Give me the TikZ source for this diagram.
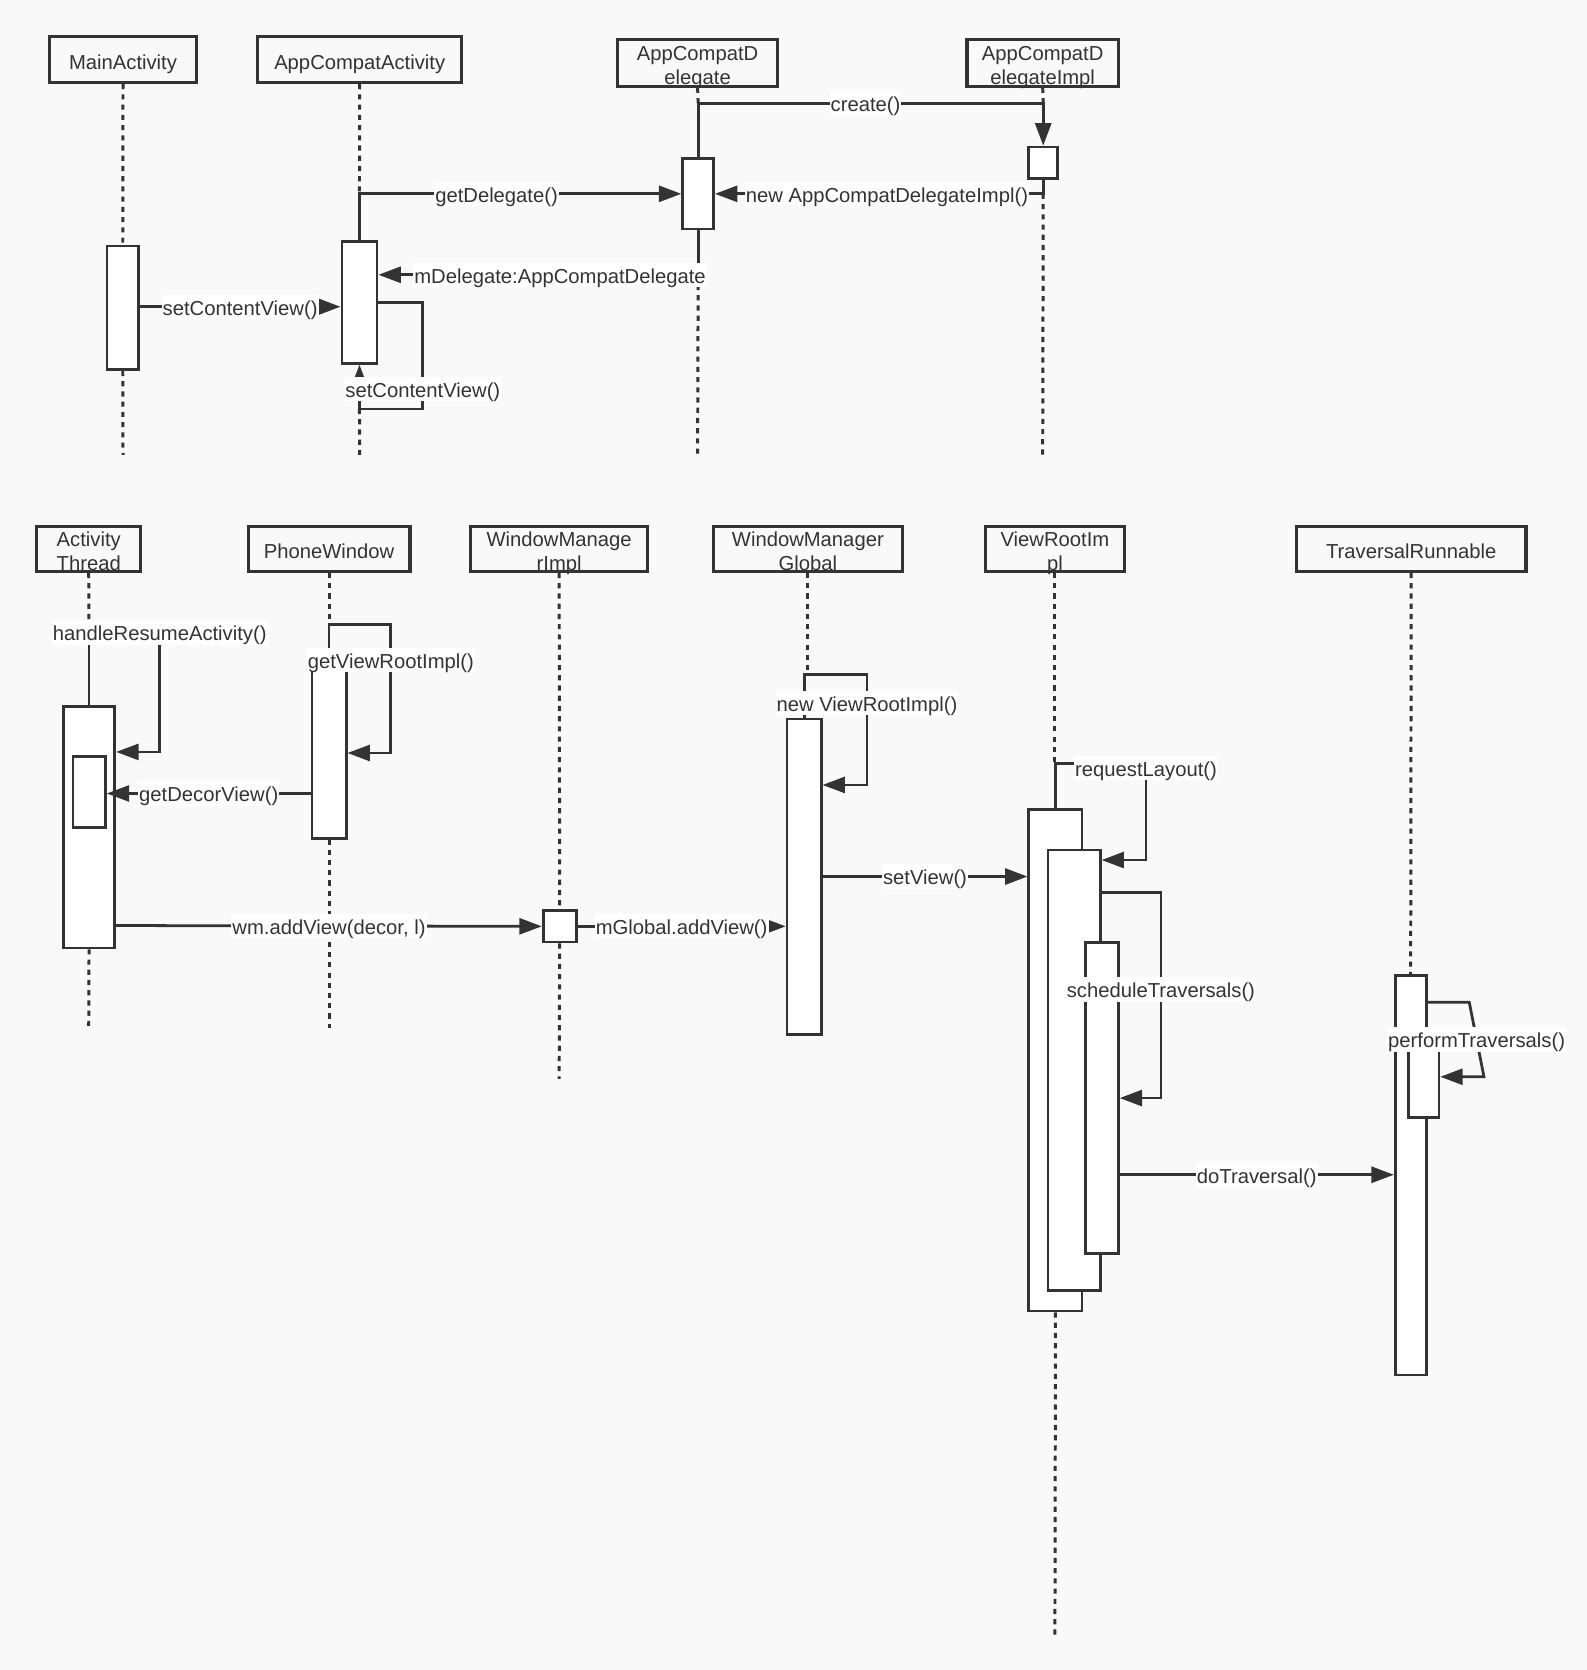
\documentclass[tikz,border=0pt]{standalone}
\usepackage{fontspec}
\setmainfont{Liberation Sans}
\usetikzlibrary{arrows.meta}
\definecolor{linea}{HTML}{333333}
\definecolor{fondo}{HTML}{F9F9F9}
% texto de cabecera en dos lineas
\newcommand{\cabdos}[2]{\raisebox{-0.1pt}[0pt][0pt]{\begin{tabular}{@{}c@{}}#1\\#2\end{tabular}}}

\begin{document}
\begin{tikzpicture}[x=0.5pt,y=-0.5pt,
	font=\fontsize{9.5}{11.4}\selectfont,
	head/.style={draw=linea, line width=1.5pt, inner sep=0pt, text=linea, text height=9.8pt, text depth=1pt},
	act/.style={draw=linea, line width=1.3pt, fill=white, inner sep=0pt},
	life/.style={draw=linea, line width=1.4pt, dash pattern=on 2.4pt off 2.4pt},
	msg/.style={draw=linea, line width=1.3pt, -{Triangle[length=10.5pt,width=7.5pt]}},
	lbl/.style={fill=white, text=linea, inner xsep=0.5pt, inner ysep=0.3pt, text height=9.3pt, text depth=1.5pt}]
	
	% Fondo
	\fill[fondo] (0,0) rectangle (1490,1568);
	\useasboundingbox (0,0) rectangle (1490,1568);
	
	% Cabeceras de arriba
	\node[head, minimum width=69pt, minimum height=21.5pt] (ma) at (115.5,56) {MainActivity};
	\node[head, minimum width=95.75pt, minimum height=21.5pt] (aca) at (337.75,56) {AppCompatActivity};
	\node[head, minimum width=75pt, minimum height=22pt] (acd) at (655,59) {\cabdos{AppCompatD}{elegate}};
	\node[head, minimum width=71pt, minimum height=22pt] (impl) at (979,59) {\cabdos{AppCompatD}{elegateImpl}};
	
	% Cabeceras de abajo
	\node[head, minimum width=48.75pt, minimum height=21.25pt] (at) at (83.3,515.25) {\cabdos{Activity}{Thread}};
	\node[head, minimum width=76pt, minimum height=21.25pt] (pw) at (309,515.25) {PhoneWindow};
	\node[head, minimum width=83pt, minimum height=21.25pt] (wmi) at (525,515.25) {\cabdos{WindowManage}{rImpl}};
	\node[head, minimum width=88.5pt, minimum height=21.25pt] (wmg) at (758.5,515.25) {\cabdos{WindowManager}{Global}};
	\node[head, minimum width=65.5pt, minimum height=21.25pt] (vri) at (990.5,515.25) {\cabdos{ViewRootIm}{pl}};
	\node[head, minimum width=107.8pt, minimum height=21.25pt] (tr) at (1325,515.25) {TraversalRunnable};
	
	% Activaciones
	\node[act, minimum width=14.75pt, minimum height=58pt] (ma1) at (115.25,289) {};
	\node[act, minimum width=16.5pt, minimum height=57pt] (aca1) at (337.5,284) {};
	\node[act, minimum width=14.5pt, minimum height=33pt] (acd1) at (655.5,182) {};
	\node[act, minimum width=13.5pt, minimum height=14.75pt] (impl1) at (979.5,152.75) {};
	\node[act, minimum width=24.2pt, minimum height=113.5pt] (at1) at (83.6,776.5) {};
	\node[act, minimum width=15.25pt, minimum height=33.5pt] (at2) at (83.75,743.5) {};
	\node[act, minimum width=16pt, minimum height=78.65pt] (pw1) at (309,708.35) {};
	\node[act, minimum width=15.5pt, minimum height=14.75pt] (wmi1) at (525.5,869.75) {};
	\node[act, minimum width=16pt, minimum height=148pt] (wmg1) at (755,823) {};
	\node[act, minimum width=25pt, minimum height=235.5pt] (vri1) at (991,995.5) {};
	\node[act, minimum width=24.5pt, minimum height=207pt] (vri2) at (1008.5,1005) {};
	\node[act, minimum width=15.25pt, minimum height=146pt] (vri3) at (1034.75,1031) {};
	\node[act, minimum width=14.5pt, minimum height=187.6pt] (tr1) at (1324.5,1103.4) {};
	\node[act, minimum width=14.25pt, minimum height=38.75pt] (tr2) at (1336.75,1010.75) {};
	
	% Lineas de vida
	\draw[life] (ma.south) -- (ma1.north);
	\draw[life] (ma1.south) -- (ma.south |- 0,427);
	\draw[life] (aca.south) -- (aca1.north |- 0,182);
	\draw[life] (aca1.south |- 0,384) -- (aca.south |- 0,427);
	\draw[life] (acd.south) -- (acd1.north |- 0,97);
	\draw[life] (acd1.south |- 0,258) -- (acd.south |- 0,427);
	\draw[life] (impl.south) -- (impl1.north |- 0,97);
	\draw[life] (impl1.south |- 0,182) -- (impl.south |- 0,427);
	
	\draw[life] (at.south) -- (at1.north |- 0,594);
	\draw[life] (at1.south) -- (at.south |- 0,965);
	\draw[life] (pw.south) -- (pw1.north |- 0,586);
	\draw[life] (pw1.south) -- (pw.south |- 0,965);
	\draw[life] (wmi.south) -- (wmi1.north);
	\draw[life] (wmi1.south) -- (wmi.south |- 0,1013);
	\draw[life] (wmg.south) -- (wmg.south |- 0,633);
	\draw[life] (vri.south) -- (vri.south |- 0,717);
	\draw[life] (vri1.south) -- (vri.south |- 0,1535);
	\draw[life] (tr.south) -- (tr1.north);
	
	% Puntos de giro
	\coordinate (scv) at (397,384);
	\coordinate (hra) at (150,594);
	\coordinate (gvr) at (367,586);
	\coordinate (nvr) at (814,633);
	\coordinate (rql) at (1076,717);
	\coordinate (sct) at (1090,1031);
	\coordinate (ptA) at (1379.5,941);
	\coordinate (ptB) at (1393.3,1011);
	
	% Mensajes de arriba
	\draw[msg] (aca1.north) |- node[lbl, pos=0.713] (lgd) {getDelegate()} (acd1.west);
	\draw[msg] (acd1.north) -- (acd1.north |- 0,97) -- node[lbl, pos=0.485] (lcr) {create()} (impl1.north |- 0,97) -- (impl1.north);
	\draw[msg] (impl1.south) |- node[lbl, pos=0.738] (lnew) {new AppCompatDelegateImpl()} (acd1.east);
	\draw[msg] (acd1.south) |- node[lbl, pos=0.716] (lmd) {mDelegate:AppCompatDelegate} (aca1.east |- 0,258);
	\draw[msg] (ma1.east |- 0,288) -- node[lbl] (lscv) {setContentView()} (aca1.west |- 0,288);
	\draw[msg] (aca1.east) -| node[lbl, pos=0.905] (lscv2) {setContentView()} (scv) -| (aca1.south);
	
	% Mensajes de abajo
	\draw[msg] (at1.north) |- (hra) |- (at1.east |- 0,706);
	\node[lbl] (lhra) at (hra) {handleResumeActivity()};
	\draw[msg] (pw1.north) |- (gvr) |- node[lbl, pos=0.14] (lgvr) {getViewRootImpl()} (pw1.east |- 0,707);
	\draw[msg] (pw1.west |- 0,745) -- node[lbl] (lgdv) {getDecorView()} (at2.east |- 0,745);
	\draw[msg] (at1.east |- 0,869) -- node[lbl] (lwm) {wm.addView(decor, l)} (wmi1.west);
	\draw[msg] (wmi1.east) -- node[lbl] (lmg) {mGlobal.addView()} (wmg1.west |- wmi1.east);
	\draw[msg] (wmg1.north) |- (nvr) |- node[lbl, pos=0.13] (lnvr) {new ViewRootImpl()} (wmg1.east |- 0,737);
	\draw[msg] (wmg1.east) -- node[lbl] (lsv) {setView()} (vri1.west |- wmg1.east);
	\draw[msg] (vri1.north) |- (rql) |- (vri2.east |- 0,807.5);
	\node[lbl] (lrql) at ([yshift=-2pt]rql) {requestLayout()};
	\draw[msg] (vri2.east |- 0,838) -| node[lbl, pos=0.736] (lsct) {scheduleTraversals()} (sct) -- (vri3.east |- sct);
	\draw[msg] (vri3.east |- 0,1103) -- node[lbl] (ldt) {doTraversal()} (tr1.west |- 0,1103);
	\draw[msg] (tr1.east |- 0,941) -- (ptA) -- node[lbl] (lpt) {performTraversals()} (ptB) -- (tr2.east |- ptB);
	
\end{tikzpicture}
\end{document}
